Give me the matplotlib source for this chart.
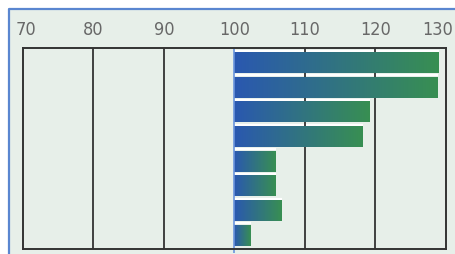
import numpy as np
import matplotlib.pyplot as plt
from matplotlib.colors import LinearSegmentedColormap
from matplotlib.patches import Rectangle
from matplotlib.transforms import ScaledTranslation

# values, top bar first
values = [129.0, 128.8, 119.2, 118.2, 105.9, 105.9, 106.7, 102.3]
base = 100
tick_values = [70, 80, 90, 100, 110, 120, 130]
tick_labels = ["70", "80", "90", "100", "110", "120", "130"]

bg = "#e7efe9"
grad = LinearSegmentedColormap.from_list("bg", ["#2a58b0", "#388f52"])

fig = plt.figure(figsize=(4.56, 2.55), dpi=100)
fig.patch.set_facecolor("white")

# panel background with blue frame on top and left
top = (255 - 10) / 255
fig.add_artist(Rectangle((9 / 456, 0), 1, top, transform=fig.transFigure,
                         facecolor=bg, edgecolor="none", zorder=-2))
fig.add_artist(plt.Line2D([9.5 / 456, 9.5 / 456, 1], [0, top, top],
                          color="#5a86d0", lw=1.6, transform=fig.transFigure,
                          zorder=-1))

ax = fig.add_axes([23 / 456, 5 / 255, (446 - 23) / 456, (250 - 48.5) / 255])
ax.set_facecolor(bg)

h = 0.83
ramp = np.linspace(0, 1, 256).reshape(1, -1)
for i, v in enumerate(values):
    ax.imshow(ramp, cmap=grad, aspect="auto", interpolation="bilinear",
              extent=(base, v, i + h / 2, i - h / 2), zorder=3)
    ax.hlines(i - h / 2 - 0.07, base, v, color="white", lw=1.6, zorder=1)

for x in [80, 90, 110, 120]:
    ax.axvline(x, color="#333333", lw=1.3, zorder=2)
ax.vlines(base, -0.61, 7.7, color="#6a94dc", lw=1.2, zorder=4, clip_on=False)

ax.set_xlim(70, 130)
ax.set_ylim(7.55, -0.61)
ax.set_yticks([])
ax.xaxis.tick_top()
ax.set_xticks(tick_values)
ax.set_xticklabels(tick_labels, family=["DejaVu Sans"], stretch="condensed",
                   weight="light", fontsize=13, color="#686868")
ax.tick_params(axis="x", length=0, pad=7)
first = ax.get_xticklabels()[0]
first.set_transform(first.get_transform() + ScaledTranslation(0.03, 0, fig.dpi_scale_trans))
last = ax.get_xticklabels()[-1]
last.set_horizontalalignment("right")
last.set_transform(last.get_transform() + ScaledTranslation(0.07, 0, fig.dpi_scale_trans))
for s in ax.spines.values():
    s.set_color("#333333")
    s.set_linewidth(1.4)
    s.set_zorder(5)

fig.savefig("out.png", dpi=100, facecolor=fig.get_facecolor())
